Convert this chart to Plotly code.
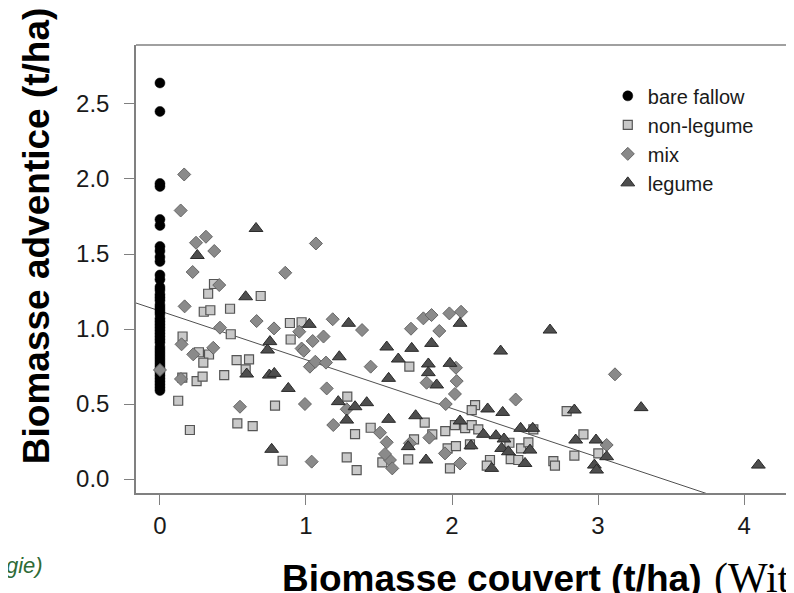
import plotly.graph_objects as go

# ---------------- data ----------------
bare_x = [0.0] * 45
bare_y = [2.64, 2.45, 1.97, 1.95, 1.73, 1.69, 1.55, 1.52, 1.48, 1.45, 1.36, 1.33,
          1.28, 1.26, 1.23, 1.21, 1.19, 1.16, 1.14, 1.12, 1.10, 1.07, 1.05, 1.03,
          1.01, 0.99, 0.97, 0.95, 0.93, 0.91, 0.88, 0.86, 0.84, 0.82, 0.80, 0.78,
          0.76, 0.74, 0.71, 0.69, 0.67, 0.65, 0.63, 0.61, 0.59]

nonleg_x = [0.37, 0.33, 0.69, 0.30, 0.345, 0.48, 0.485, 0.89, 0.97, 0.155, 0.895, 0.267,
            0.336, 0.297, 0.153, 0.251, 0.292, 0.44, 0.525, 0.61, 0.587, 0.125, 0.788, 0.205,
            0.53, 0.635, 0.84, 1.283, 1.708, 1.336, 1.443, 1.813, 1.74, 1.865, 1.954, 2.02,
            1.97, 1.986, 1.70, 1.523, 1.279, 1.347, 2.158, 2.135, 2.09, 2.135, 2.18, 2.123,
            2.027, 2.393, 2.473, 2.523, 2.557, 2.402, 2.454, 2.26, 2.238, 2.694, 2.705, 2.785,
            2.90, 3.002, 2.838]
nonleg_y = [1.30, 1.235, 1.22, 1.115, 1.125, 1.135, 0.965, 1.04, 1.045, 0.95, 0.93, 0.845,
            0.83, 0.776, 0.676, 0.653, 0.682, 0.693, 0.793, 0.798, 0.731, 0.522, 0.489, 0.327,
            0.371, 0.353, 0.122, 0.549, 0.749, 0.30, 0.342, 0.376, 0.265, 0.298, 0.32, 0.36,
            0.204, 0.071, 0.131, 0.111, 0.144, 0.06, 0.493, 0.46, 0.34, 0.36, 0.331, 0.231,
            0.22, 0.242, 0.204, 0.244, 0.331, 0.133, 0.127, 0.127, 0.089, 0.12, 0.089, 0.453,
            0.298, 0.171, 0.156]

mix_x = [0.166, 0.142, 0.315, 0.247, 1.068, 0.372, 0.224, 0.858, 0.406, 0.169, 0.662, 0.411,
         0.781, 0.954, 1.183, 1.384, 0.97, 0.985, 1.046, 1.12, 0.148, 0.228, 0.365, 0.0,
         0.144, 0.548, 0.993, 1.142, 1.039, 1.027, 1.064, 1.137, 1.719, 1.804, 1.86, 1.913,
         1.982, 2.062, 1.443, 1.826, 2.02, 1.957, 1.279, 1.187, 1.507, 1.553, 1.712, 1.845,
         1.952, 1.575, 1.591, 1.541, 2.027, 2.032, 2.436, 2.055, 3.059, 3.116]
mix_y = [2.03, 1.79, 1.615, 1.575, 1.57, 1.52, 1.38, 1.375, 1.293, 1.151, 1.053, 1.009,
         1.004, 0.982, 1.065, 0.993, 0.87, 0.855, 0.92, 0.95, 0.898, 0.831, 0.875, 0.727,
         0.667, 0.482, 0.50, 0.604, 0.116, 0.749, 0.782, 0.776, 1.002, 1.071, 1.093, 0.987,
         1.104, 1.115, 0.749, 0.642, 0.567, 0.50, 0.465, 0.36, 0.309, 0.245, 0.238, 0.276,
         0.171, 0.127, 0.071, 0.167, 0.742, 0.653, 0.53, 0.104, 0.227, 0.698]

leg_x = [0.658, 0.256, 0.587, 1.023, 1.292, 0.753, 0.737, 0.594, 0.749, 0.783, 0.879, 0.765,
         1.228, 1.553, 1.724, 1.86, 1.632, 1.566, 1.838, 1.838, 1.895, 1.986, 1.221, 1.336,
         1.416, 1.279, 1.566, 1.751, 1.70, 1.822, 2.055, 2.671, 2.333, 2.244, 2.347, 2.055,
         2.13, 2.215, 2.301, 2.356, 2.34, 2.386, 2.534, 2.47, 2.553, 2.50, 2.272, 2.838,
         3.295, 2.847, 2.986, 3.059, 2.975, 2.99, 4.098]
leg_y = [1.67, 1.49, 1.215, 1.031, 1.038, 0.916, 0.86, 0.70, 0.693, 0.704, 0.604, 0.198,
         0.815, 0.88, 0.871, 0.904, 0.80, 0.671, 0.767, 0.709, 0.627, 0.771, 0.516, 0.482,
         0.509, 0.393, 0.398, 0.422, 0.216, 0.127, 1.038, 0.993, 0.853, 0.467, 0.444, 0.387,
         0.222, 0.298, 0.289, 0.267, 0.204, 0.182, 0.193, 0.338, 0.338, 0.104, 0.071, 0.46,
         0.476, 0.26, 0.26, 0.149, 0.093, 0.06, 0.093]

fit_intercept = 1.12
fit_slope = -0.325

x_range = [-0.164, 4.342]
y_range = [-0.093, 2.893]
y_ticks = [0.0, 0.5, 1.0, 1.5, 2.0, 2.5]
x_ticks = [0, 1, 2, 3, 4]

# ---------------- figure ----------------
FONT = "Liberation Sans, Arial, sans-serif"
fig = go.Figure()

fit_x = [x_range[0], x_range[1]]
fig.add_trace(go.Scatter(
    x=fit_x, y=[fit_intercept + fit_slope * v for v in fit_x],
    mode="lines", line=dict(color="#505050", width=1), showlegend=False,
    hoverinfo="skip"))

fig.add_trace(go.Scatter(
    x=bare_x, y=bare_y, mode="markers", name="bare fallow",
    marker=dict(symbol="circle", size=10, color="#000000",
                line=dict(color="#000000", width=0.5))))
fig.add_trace(go.Scatter(
    x=nonleg_x, y=nonleg_y, mode="markers", name="non-legume",
    marker=dict(symbol="square", size=9, color="#c9c9c9",
                line=dict(color="#555555", width=1.2))))
fig.add_trace(go.Scatter(
    x=mix_x, y=mix_y, mode="markers", name="mix",
    marker=dict(symbol="diamond", size=10, color="#8a8a8a",
                line=dict(color="#666666", width=1))))
fig.add_trace(go.Scatter(
    x=leg_x, y=leg_y, mode="markers", name="legume",
    marker=dict(symbol="triangle-up", size=12, color="#4e4e4e",
                line=dict(color="#2a2a2a", width=1))))

axis_line = "#808080"
fig.update_layout(
    width=786, height=585,
    margin=dict(l=128, r=0, t=37, b=100),
    paper_bgcolor="white", plot_bgcolor="white",
    font=dict(family=FONT, color="#1a1a1a"),
    showlegend=True,
    legend=dict(x=0.717, y=0.93, xanchor="left", yanchor="top",
                bgcolor="rgba(0,0,0,0)", font=dict(size=20, family=FONT, color="#1a1a1a"),
                itemsizing="trace", tracegroupgap=0),
    xaxis=dict(range=x_range, tickvals=x_ticks, ticktext=[str(v) for v in x_ticks],
               showgrid=False, zeroline=False, showline=True, linecolor=axis_line,
               linewidth=1.5, ticks="outside", ticklen=10, tickcolor=axis_line,
               tickwidth=1, tickfont=dict(size=24, family=FONT, color="#1a1a1a")),
    yaxis=dict(range=y_range, tickvals=y_ticks, ticktext=["%.1f" % v for v in y_ticks],
               showgrid=False, zeroline=False, showline=True, linecolor=axis_line,
               linewidth=1.5, ticks="outside", ticklen=10, tickcolor=axis_line,
               tickwidth=1, ticklabelstandoff=10,
               tickfont=dict(size=24, family=FONT, color="#1a1a1a")),
    shapes=[dict(type="line", xref="paper", yref="paper", x0=0, x1=1, y0=1, y1=1,
                 line=dict(color=axis_line, width=1.5))],
    annotations=[
        dict(text="<b>Biomasse adventice (t/ha)</b>", textangle=-90,
             xref="paper", yref="paper", x=-0.150, y=0.574, xanchor="center",
             yanchor="middle", showarrow=False,
             font=dict(size=37, family=FONT, color="#000000")),
        dict(text="<b>Biomasse couvert (t/ha)</b>",
             xref="paper", yref="paper", x=0.541, y=-0.19, xanchor="center",
             yanchor="middle", showarrow=False,
             font=dict(size=37, family=FONT, color="#000000")),
        dict(text="(Wittwer et al.",
             xref="paper", yref="paper", x=0.875, y=-0.19, xanchor="left",
             yanchor="middle", showarrow=False,
             font=dict(size=42, family="Liberation Serif, Times New Roman, serif",
                       color="#000000")),
        dict(text="<i>gie)</i>",
             xref="paper", yref="paper", x=-0.138, y=-0.161, xanchor="right",
             yanchor="middle", showarrow=False,
             font=dict(size=22, family=FONT, color="#2e6b35")),
    ],
)

fig.write_html("out.html")
